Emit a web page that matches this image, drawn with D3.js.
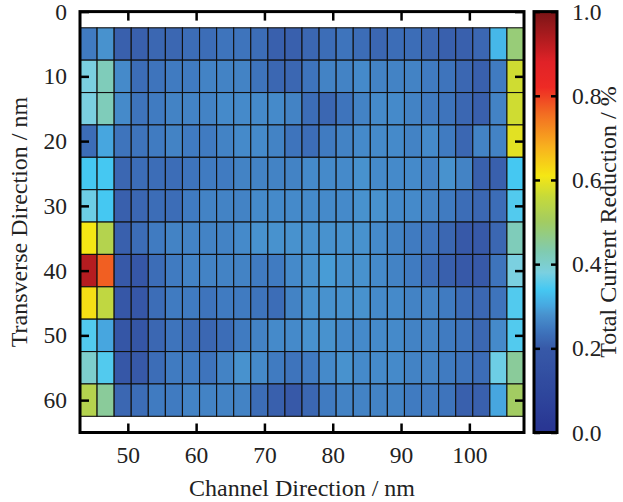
<!DOCTYPE html>
<html>
<head>
    <style>
        body { margin: 0; background: #fff; }
        svg text { font-family: "Liberation Serif", "DejaVu Serif", serif; fill: #222; }
        .tick line { stroke: #000; stroke-width: 2.5; }
        .tick text { font-size: 23.5px; }
        .title { font-size: 24px; }
    </style>
    <script src="https://d3js.org/d3.v7.min.js"></script>
</head>
<body>
    <svg width="623" height="502"></svg>
    <script>

        // cell centres, nm
        var channelPos = [44.25, 46.75, 49.25, 51.75, 54.25, 56.75, 59.25, 61.75, 64.25, 66.75,
                          69.25, 71.75, 74.25, 76.75, 79.25, 81.75, 84.25, 86.75, 89.25, 91.75,
                          94.25, 96.75, 99.25, 101.75, 104.25, 106.75];
        var transversePos = [5, 10, 15, 20, 25, 30, 35, 40, 45, 50, 55, 60];

        // total current reduction, one row per transverse position
        var reduction = [
            [0.25, 0.28, 0.21, 0.21, 0.22, 0.22, 0.23, 0.23, 0.24, 0.24, 0.23, 0.21, 0.21, 0.22, 0.23, 0.24, 0.23, 0.22, 0.23, 0.23, 0.22, 0.21, 0.21, 0.22, 0.32, 0.48],
            [0.38, 0.42, 0.27, 0.23, 0.24, 0.25, 0.25, 0.26, 0.26, 0.26, 0.24, 0.22, 0.22, 0.24, 0.26, 0.26, 0.27, 0.26, 0.26, 0.26, 0.25, 0.24, 0.22, 0.21, 0.25, 0.57],
            [0.38, 0.42, 0.27, 0.24, 0.25, 0.26, 0.26, 0.26, 0.27, 0.27, 0.27, 0.27, 0.26, 0.23, 0.22, 0.24, 0.26, 0.27, 0.27, 0.26, 0.25, 0.24, 0.22, 0.21, 0.26, 0.57],
            [0.23, 0.30, 0.24, 0.24, 0.25, 0.26, 0.25, 0.25, 0.26, 0.27, 0.27, 0.26, 0.24, 0.23, 0.25, 0.26, 0.27, 0.27, 0.27, 0.26, 0.27, 0.25, 0.22, 0.26, 0.26, 0.59],
            [0.34, 0.34, 0.22, 0.23, 0.23, 0.23, 0.24, 0.25, 0.25, 0.26, 0.26, 0.26, 0.26, 0.27, 0.27, 0.27, 0.28, 0.27, 0.27, 0.27, 0.26, 0.28, 0.26, 0.21, 0.21, 0.34],
            [0.37, 0.34, 0.21, 0.22, 0.23, 0.23, 0.25, 0.26, 0.26, 0.26, 0.27, 0.27, 0.27, 0.27, 0.27, 0.27, 0.28, 0.28, 0.27, 0.27, 0.26, 0.25, 0.23, 0.22, 0.23, 0.35],
            [0.61, 0.53, 0.21, 0.23, 0.25, 0.26, 0.26, 0.26, 0.26, 0.27, 0.28, 0.28, 0.28, 0.28, 0.28, 0.28, 0.28, 0.27, 0.26, 0.25, 0.24, 0.22, 0.20, 0.20, 0.22, 0.42],
            [0.93, 0.77, 0.20, 0.19, 0.23, 0.25, 0.26, 0.26, 0.26, 0.26, 0.25, 0.25, 0.27, 0.28, 0.29, 0.28, 0.28, 0.27, 0.26, 0.25, 0.23, 0.21, 0.20, 0.20, 0.24, 0.38],
            [0.62, 0.55, 0.19, 0.19, 0.23, 0.25, 0.25, 0.24, 0.25, 0.25, 0.24, 0.23, 0.26, 0.28, 0.28, 0.28, 0.28, 0.27, 0.27, 0.26, 0.26, 0.25, 0.23, 0.22, 0.24, 0.35],
            [0.35, 0.30, 0.18, 0.18, 0.22, 0.24, 0.23, 0.22, 0.23, 0.25, 0.26, 0.27, 0.27, 0.28, 0.28, 0.27, 0.27, 0.27, 0.27, 0.26, 0.26, 0.25, 0.24, 0.22, 0.27, 0.35],
            [0.40, 0.35, 0.19, 0.20, 0.23, 0.25, 0.25, 0.24, 0.26, 0.28, 0.27, 0.25, 0.24, 0.25, 0.27, 0.28, 0.27, 0.27, 0.27, 0.26, 0.26, 0.25, 0.24, 0.23, 0.37, 0.45],
            [0.53, 0.45, 0.22, 0.23, 0.25, 0.25, 0.26, 0.26, 0.26, 0.26, 0.23, 0.21, 0.20, 0.22, 0.25, 0.26, 0.26, 0.26, 0.26, 0.25, 0.25, 0.24, 0.21, 0.21, 0.30, 0.50]
        ];

        var xTicks = [50, 60, 70, 80, 90, 100];
        var yTicks = [0, 10, 20, 30, 40, 50, 60];
        var cbTicks = [0.0, 0.2, 0.4, 0.6, 0.8, 1.0];

        var cmapStops  = [0.00, 0.10, 0.20, 0.25, 0.28, 0.30, 0.34, 0.38, 0.43, 0.50, 0.56, 0.61, 0.68, 0.76, 0.82, 0.88, 1.00];
        var cmapColors = ['#283492', '#2f489d', '#3759a8', '#407bc1', '#4892ce', '#47a6df', '#45c8f2', '#7bd0e0',
                          '#80cbb0', '#a2cc62', '#c6d93a', '#f5e714', '#f8b01e', '#f26a22', '#ee2a24', '#e02227', '#7a1416'];

        var svg = d3.select("svg");
        var plotL = 80, plotR = 524, plotT = 11.6, plotB = 432.5;

        var x = d3.scaleLinear().domain([43, 108]).range([plotL, plotR]);
        var y = d3.scaleLinear().domain([0, 65]).range([plotT, plotB]);
        var color = d3.scaleLinear().domain(cmapStops).range(cmapColors).clamp(true);

        var cellW = 2.5, cellH = 5;

        var cells = [];
        reduction.forEach(function(row, i) {
            row.forEach(function(v, j) {
                cells.push({ cx: channelPos[j], cy: transversePos[i], v: v });
            });
        });

        svg.append("g").selectAll("rect")
           .data(cells)
           .enter().append("rect")
           .attr("x", function(d) { return x(d.cx - cellW / 2); })
           .attr("y", function(d) { return y(d.cy - cellH / 2); })
           .attr("width", x(cellW) - x(0))
           .attr("height", y(cellH) - y(0))
           .attr("fill", function(d) { return color(d.v); })
           .attr("stroke", "#111")
           .attr("stroke-width", 1.1);

        // axes, ticks pointing inwards
        svg.append("g")
           .attr("transform", "translate(0," + plotB + ")")
           .call(d3.axisBottom(x).tickValues(xTicks).tickSize(-9).tickPadding(14))
           .call(function(g) { g.select(".domain").remove(); });
        svg.append("g")
           .attr("transform", "translate(0," + plotT + ")")
           .call(d3.axisTop(x).tickValues(xTicks).tickSize(-9).tickFormat(""))
           .call(function(g) { g.select(".domain").remove(); });
        svg.append("g")
           .attr("transform", "translate(" + plotL + ",0)")
           .call(d3.axisLeft(y).tickValues(yTicks).tickSize(-9).tickPadding(13))
           .call(function(g) { g.select(".domain").remove(); });
        svg.append("g")
           .attr("transform", "translate(" + plotR + ",0)")
           .call(d3.axisRight(y).tickValues(yTicks).tickSize(-9).tickFormat(""))
           .call(function(g) { g.select(".domain").remove(); });

        svg.append("rect")
           .attr("x", plotL).attr("y", plotT)
           .attr("width", plotR - plotL).attr("height", plotB - plotT)
           .attr("fill", "none").attr("stroke", "#000").attr("stroke-width", 3);

        // colour bar
        var cbL = 534, cbR = 557;
        var cbScale = d3.scaleLinear().domain([0, 1]).range([plotB, plotT]);

        var grad = svg.append("defs").append("linearGradient")
                      .attr("id", "cbar")
                      .attr("x1", 0).attr("y1", 1).attr("x2", 0).attr("y2", 0);
        grad.selectAll("stop")
            .data(d3.range(0, 1.0001, 0.01))
            .enter().append("stop")
            .attr("offset", function(d) { return d; })
            .attr("stop-color", function(d) { return color(d); });

        svg.append("rect")
           .attr("x", cbL).attr("y", plotT)
           .attr("width", cbR - cbL).attr("height", plotB - plotT)
           .attr("fill", "url(#cbar)");

        svg.append("g")
           .attr("transform", "translate(" + cbL + ",0)")
           .call(d3.axisLeft(cbScale).tickValues(cbTicks).tickSize(-6).tickFormat(""))
           .call(function(g) { g.select(".domain").remove(); });
        svg.append("g")
           .attr("transform", "translate(" + cbR + ",0)")
           .call(d3.axisRight(cbScale).tickValues(cbTicks).tickSize(-6).tickPadding(15).tickFormat(d3.format(".1f")))
           .call(function(g) { g.select(".domain").remove(); });

        svg.append("rect")
           .attr("x", cbL).attr("y", plotT)
           .attr("width", cbR - cbL).attr("height", plotB - plotT)
           .attr("fill", "none").attr("stroke", "#000").attr("stroke-width", 3);

        // titles
        svg.append("text")
           .attr("class", "title")
           .attr("x", (plotL + plotR) / 2).attr("y", 496)
           .attr("text-anchor", "middle")
           .text("Channel Direction / nm");

        svg.append("text")
           .attr("class", "title")
           .attr("transform", "translate(27," + (plotT + plotB) / 2 + ") rotate(-90)")
           .attr("text-anchor", "middle")
           .text("Transverse Direction / nm");

        svg.append("text")
           .attr("class", "title")
           .attr("transform", "translate(616," + (plotT + plotB) / 2 + ") rotate(-90)")
           .attr("text-anchor", "middle")
           .text("Total Current Reduction / %");
    </script>
</body>
</html>
